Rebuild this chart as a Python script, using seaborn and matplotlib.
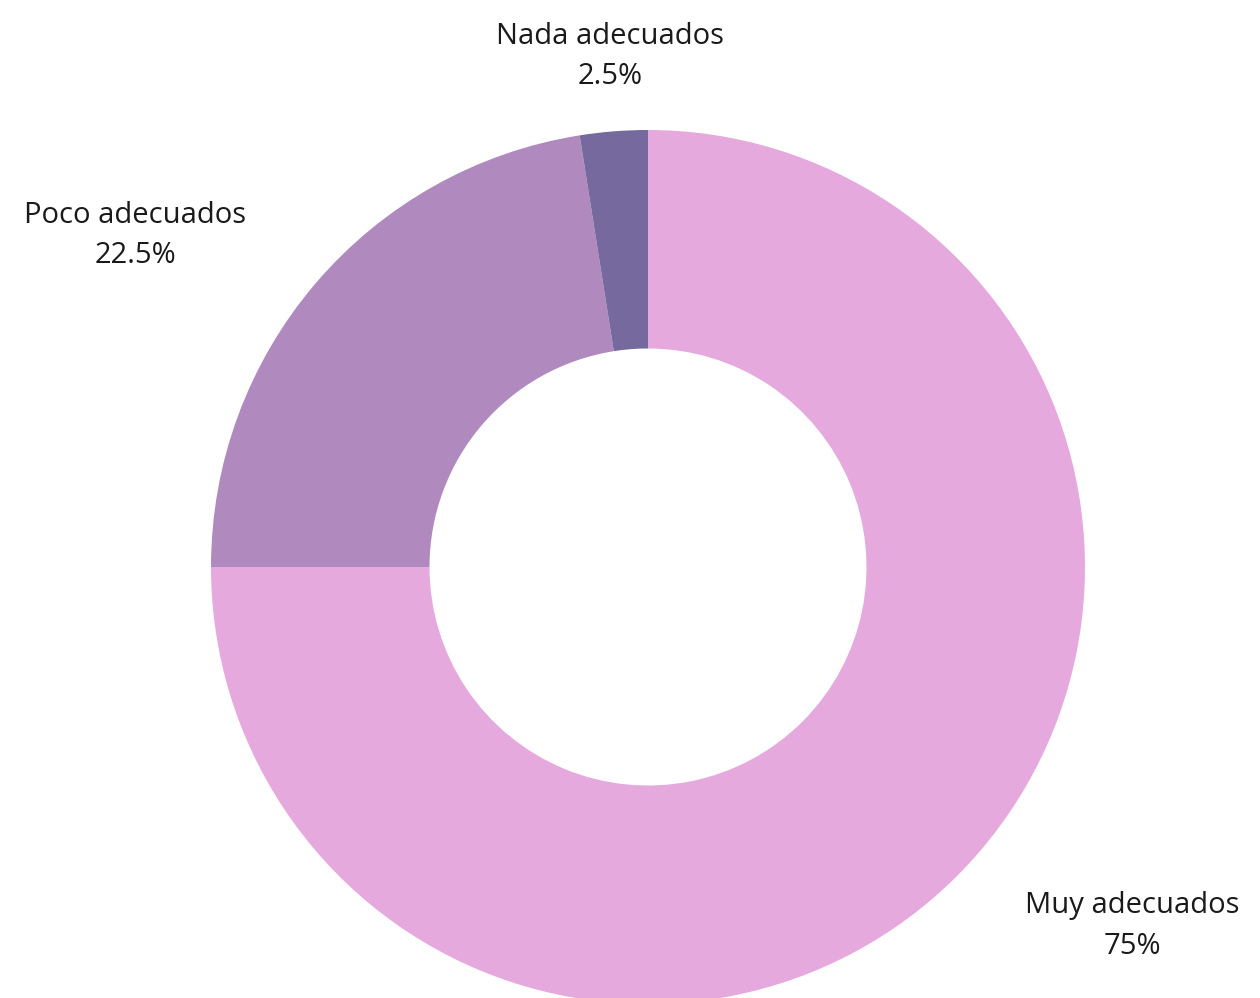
import matplotlib
matplotlib.use("Agg")
import matplotlib.pyplot as plt
import seaborn as sns

categories = ["Muy adecuados", "Poco adecuados", "Nada adecuados"]
values = [75, 22.5, 2.5]
value_labels = ["75%", "22.5%", "2.5%"]
colors = ["#E6A9DD", "#B089BF", "#75699E"]

sns.set_theme(style="white")
plt.rcParams["font.family"] = ["Open Sans", "DejaVu Sans"]
palette = sns.color_palette(colors)

W, H = 1260, 998
fig = plt.figure(figsize=(W / 100, H / 100), dpi=100)
ax = fig.add_axes([0, 0, 1, 1])

cx, cy, r = 648, H - 567, 437
ax.pie(values, colors=palette, startangle=90, counterclock=False,
       center=(cx, cy), radius=r, frame=True,
       wedgeprops=dict(width=r * 0.5, linewidth=0))
ax.set_xlim(0, W)
ax.set_ylim(0, H)
ax.set_aspect("equal")
ax.axis("off")

# label anchor points (centre of each two-line label)
label_pos = {"Muy adecuados": (1132, H - 926),
             "Poco adecuados": (135, H - 235),
             "Nada adecuados": (610, H - 56)}
for cat, lab in zip(categories, value_labels):
    x, y = label_pos[cat]
    ax.text(x, y, f"{cat}\n{lab}", ha="center", va="center",
            fontsize=21, color="#1a1a1a", linespacing=1.5)

fig.savefig("out.png", dpi=100, facecolor="white")
